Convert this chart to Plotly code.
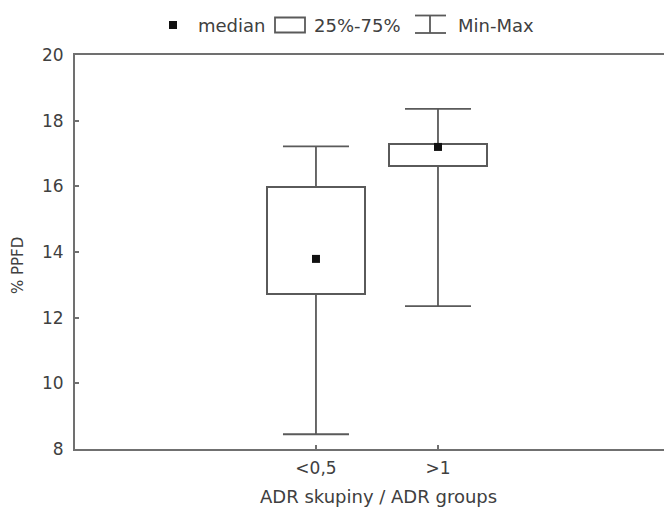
import plotly.graph_objects as go

# ---- data ----
categories = ["<0,5", ">1"]
minimum = [8.45, 12.35]
q1 = [12.72, 16.62]
median = [13.79, 17.20]
q3 = [15.98, 17.29]
maximum = [17.22, 18.36]
y_ticks = [8, 10, 12, 14, 16, 18, 20]

x_title = "ADR skupiny / ADR groups"
y_title = "% PPFD"
legend_labels = ["median", "25%-75%", "Min-Max"]

# ---- style ----
OFF = 8                      # page body margin in the browser
W, H = 664, 504
L, T, B = 67, 47, 63
PW, PH = W - L, H - T - B
FONT = "DejaVu Sans"
TXT = "#404040"
LINE = "#5a5a5a"
AX = "#707070"

def px(xs):
    return (xs - OFF - L) / PW

def py(ys):
    return (H - B - (ys - OFF)) / PH

fig = go.Figure()

box_h = [b - a for a, b in zip(q1, q3)]
fig.add_trace(go.Bar(
    x=categories, y=box_h, base=q1, width=0.8,
    marker=dict(color="white", line=dict(color=LINE, width=2)),
    showlegend=False, hoverinfo="skip",
))

upper = [m - b for m, b in zip(maximum, q3)]
lower = [a - m for a, m in zip(q1, minimum)]
fig.add_trace(go.Scatter(
    x=categories, y=q3, mode="markers", marker=dict(opacity=0, size=1),
    error_y=dict(type="data", array=upper, arrayminus=[0] * len(upper),
                 symmetric=False, color=LINE, thickness=1.8, width=33),
    showlegend=False, hoverinfo="skip",
))
fig.add_trace(go.Scatter(
    x=categories, y=q1, mode="markers", marker=dict(opacity=0, size=1),
    error_y=dict(type="data", array=[0] * len(lower), arrayminus=lower,
                 symmetric=False, color=LINE, thickness=1.8, width=33),
    showlegend=False, hoverinfo="skip",
))
fig.add_trace(go.Scatter(
    x=categories, y=median, mode="markers",
    marker=dict(symbol="square", size=8, color="#111111"),
    showlegend=False, hoverinfo="skip",
))

# ---- manual legend ----
shapes = []
shapes.append(dict(type="rect", xref="paper", yref="paper",
                   x0=px(169), x1=px(177), y0=py(21), y1=py(29),
                   fillcolor="#111111", line=dict(width=0)))
shapes.append(dict(type="rect", xref="paper", yref="paper",
                   x0=px(275), x1=px(305), y0=py(17.5), y1=py(32.5),
                   fillcolor="white", line=dict(color=LINE, width=1.8)))
for yy in (15.5, 33):
    shapes.append(dict(type="line", xref="paper", yref="paper",
                       x0=px(415), x1=px(446), y0=py(yy), y1=py(yy),
                       line=dict(color=LINE, width=1.8)))
shapes.append(dict(type="line", xref="paper", yref="paper",
                   x0=px(430), x1=px(430), y0=py(15.5), y1=py(33),
                   line=dict(color=LINE, width=1.8)))

annotations = []
for label, xl in zip(legend_labels, (196, 312, 456)):
    annotations.append(dict(text=label, xref="paper", yref="paper",
                            x=px(xl), y=py(25), xanchor="left", yanchor="middle",
                            showarrow=False, font=dict(family=FONT, size=18, color=TXT)))
annotations.append(dict(text=x_title, xref="paper", yref="paper",
                        x=px(378), y=py(496), xanchor="center", yanchor="middle",
                        showarrow=False, font=dict(family=FONT, size=18, color=TXT)))
annotations.append(dict(text=y_title, xref="paper", yref="paper",
                        x=px(18), y=py(266), xanchor="center", yanchor="middle",
                        textangle=-90,
                        showarrow=False, font=dict(family=FONT, size=15, color=TXT)))

fig.update_layout(
    width=W, height=H,
    margin=dict(l=L, r=0, t=T, b=B, pad=0),
    paper_bgcolor="white", plot_bgcolor="white",
    shapes=shapes, annotations=annotations,
    showlegend=False, bargap=0,
    font=dict(family=FONT, size=17, color=TXT),
)
fig.update_xaxes(
    type="category", range=[-1.975, 2.918],
    showline=True, linecolor=AX, linewidth=2, mirror=True,
    ticks="inside", ticklen=4, tickcolor=AX, tickwidth=1.5,
    showgrid=False, zeroline=False,
    ticklabelstandoff=3,
    tickfont=dict(family=FONT, size=17, color=TXT),
)
fig.update_yaxes(
    range=[8, 20], tickvals=y_ticks, ticktext=[str(v) for v in y_ticks],
    showline=True, linecolor=AX, linewidth=2, mirror=False,
    ticks="inside", ticklen=4, tickcolor=AX, tickwidth=1.5,
    showgrid=False, zeroline=False,
    ticklabelstandoff=6,
    tickfont=dict(family=FONT, size=17, color=TXT),
)

fig.write_html("out.html")
